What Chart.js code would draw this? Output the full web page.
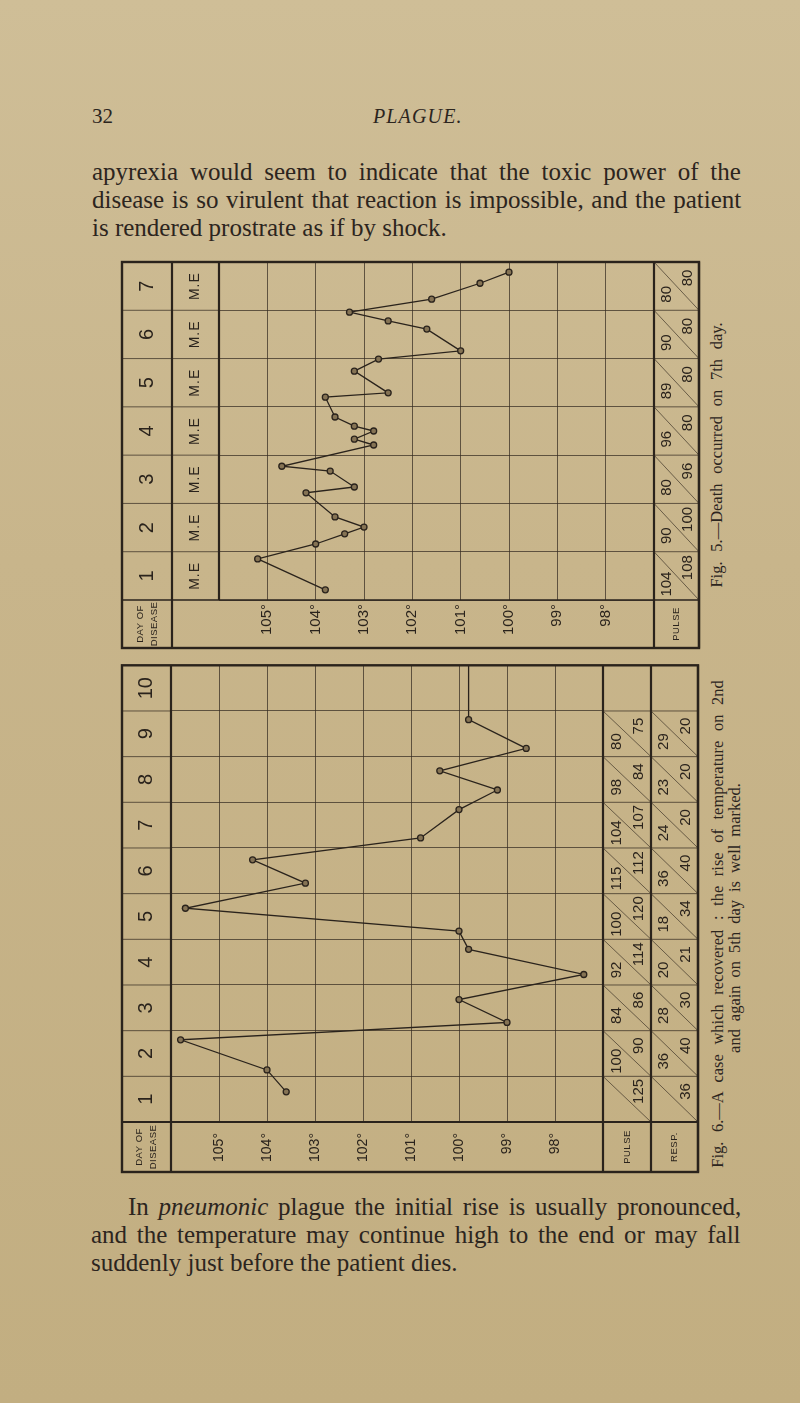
<!DOCTYPE html>
<html>
<head>
<meta charset="utf-8">
<title>Plague temperature charts</title>
<script src="https://cdn.jsdelivr.net/npm/chart.js@4.4.1/dist/chart.umd.min.js"></script>
<style>
  html, body { margin: 0; padding: 0; }
  body {
    width: 800px; height: 1403px; position: relative; overflow: hidden;
    background: linear-gradient(180deg, #cfbe97 0%, #c8b58b 40%, #c2ae81 100%);
    color: #2c251e; font-family: "Liberation Serif", "DejaVu Serif", serif;
  }
  .t { position: absolute; white-space: nowrap; }
  .body { font-size: 25px; line-height: 28px; }
  .cap { font-size: 16.5px; line-height: 18px; transform: translate(-50%, -50%) rotate(-90deg); }
  canvas { position: absolute; }
</style>
</head>
<body>

<div class="t" style="left:92px;top:106px;font-size:21px;line-height:21px">32</div>
<div class="t" data-w="90" style="left:373px;top:106px;font-size:20px;line-height:21px;font-style:italic">PLAGUE.</div>

<div class="t body" data-w="649" style="left:92px;top:158px">apyrexia would seem to indicate that the toxic power of the</div>
<div class="t body" data-w="649" style="left:92px;top:186px">disease is so virulent that reaction is impossible, and the patient</div>
<div class="t body" style="left:92px;top:214px">is rendered prostrate as if by shock.</div>

<canvas id="fig5" width="586" height="398" style="left:118px;top:256px"></canvas>
<div class="t cap" data-w="265" style="left:717px;top:455px">Fig. 5.—Death occurred on 7th day.</div>

<canvas id="fig6" width="586" height="518" style="left:118px;top:660px"></canvas>
<div class="t cap" data-w="488" style="left:718px;top:924px">Fig. 6.—A case which recovered : the rise of temperature on 2nd</div>
<div class="t cap" data-w="270" style="left:735px;top:918px">and again on 5th day is well marked.</div>

<div class="t body" data-w="613" style="left:128px;top:1193px">In <i>pneumonic</i> plague the initial rise is usually pronounced,</div>
<div class="t body" data-w="650" style="left:91px;top:1221px">and the temperature may continue high to the end or may fall</div>
<div class="t body" style="left:91px;top:1249px">suddenly just before the patient dies.</div>

<script>
// temperature scale labels (both charts)
const tempTicks = [105, 104, 103, 102, 101, 100, 99, 98];

// Fig. 5 - death on the 7th day (time in days from admission, temp in °F)
const fig5Days = ['1', '2', '3', '4', '5', '6', '7'];
const fig5Times = [0.21, 0.85, 1.16, 1.37, 1.51, 1.72, 2.22, 2.34, 2.67, 2.77, 3.21, 3.33, 3.50,
                   3.60, 3.79, 4.20, 4.29, 4.74, 4.99, 5.16, 5.61, 5.78, 5.96, 6.23, 6.56, 6.79];
const fig5Temps = [103.8, 105.2, 104.0, 103.4, 103.0, 103.6, 104.2, 103.2, 103.7, 104.7, 102.8, 103.2, 102.8,
                   103.2, 103.6, 103.8, 102.5, 103.2, 102.7, 101.0, 101.7, 102.5, 103.3, 101.6, 100.6, 100.0];
const fig5PulseM = [104, 90, 80, 96, 89, 90, 80];
const fig5PulseE = [108, 100, 96, 80, 80, 80, 80];

// Fig. 6 - a case which recovered (last entry is the line running up to the top edge)
const fig6Days = ['1', '2', '3', '4', '5', '6', '7', '8', '9', '10'];
const fig6Times = [0.66, 1.14, 1.80, 2.18, 2.68, 3.23, 3.78, 4.18, 4.68, 5.23, 5.74, 6.22,
                   6.84, 7.27, 7.69, 8.18, 8.81, 10];
const fig6Temps = [103.6, 104.0, 105.8, 99.0, 100.0, 97.4, 99.8, 100.0, 105.7, 103.2, 104.3, 100.8,
                   100.0, 99.2, 100.4, 98.6, 99.8, 99.8];
const fig6PulseM = [null, 100, 84, 92, 100, 115, 104, 98, 80, null];
const fig6PulseE = [125, 90, 86, 114, 120, 112, 107, 84, 75, null];
const fig6RespM = [null, 36, 28, 20, 18, 36, 24, 23, 29, null];
const fig6RespE = [36, 40, 30, 21, 34, 40, 20, 20, 20, null];

const ink = '#2a231c';
const gridInk = 'rgba(52, 43, 33, 0.72)';
Chart.defaults.font.family = 'Liberation Sans';

// stretch justified lines of text to the measured widths
document.querySelectorAll('[data-w]').forEach(el => {
  const target = +el.dataset.w;
  const gaps = (el.textContent.match(/ /g) || []).length;
  const natural = el.offsetWidth;
  if (gaps) el.style.wordSpacing = ((target - natural) / gaps).toFixed(2) + 'px';
  else el.style.letterSpacing = ((target - natural) / el.textContent.length).toFixed(2) + 'px';
});

function vtext(ctx, str, x, y, font, spacing) {
  ctx.save();
  ctx.translate(x, y);
  ctx.rotate(-Math.PI / 2);
  ctx.font = font;
  ctx.letterSpacing = spacing || '0px';
  ctx.textAlign = 'center';
  ctx.textBaseline = 'middle';
  ctx.fillText(str, 0, 0);
  ctx.restore();
}

// draws the chart sheet around the plot: day column, M.E column, pulse/resp cells
const sheet = {
  id: 'sheet',
  afterDraw(chart, args, o) {
    const { ctx, chartArea: a, scales: { y } } = chart;
    const n = o.days.length;
    const leftW = o.left.reduce((s, c) => s + c.w, 0);
    const rightW = o.right.reduce((s, c) => s + c.w, 0);
    const L = a.left - leftW, R = a.right + rightW, T = a.top, B = a.bottom + o.labelRow;
    const top = k => y.getPixelForValue(k + 1);
    const bot = k => y.getPixelForValue(k);
    const midLabel = (a.bottom + B) / 2;

    ctx.save();
    ctx.strokeStyle = ink;
    ctx.fillStyle = ink;
    const seg = (x1, y1, x2, y2, w, c) => {
      ctx.strokeStyle = c || ink;
      ctx.lineWidth = w;
      ctx.beginPath(); ctx.moveTo(x1, y1); ctx.lineTo(x2, y2); ctx.stroke();
    };

    // row rules in the side columns
    for (let k = 1; k < n; k++) {
      const py = y.getPixelForValue(k);
      seg(L, py, a.left, py, 1, gridInk);
      seg(a.right, py, R, py, 1, gridInk);
    }

    // left columns
    let x0 = L;
    o.left.forEach((c, i) => {
      const cx = x0 + c.w / 2;
      for (let k = 0; k < n; k++) {
        const cy = (top(k) + bot(k)) / 2;
        if (c.kind === 'day') vtext(ctx, o.days[k], cx, cy, '20px "Liberation Sans"');
        else vtext(ctx, 'M.E', cx, cy, '14px "Liberation Sans"', '1px');
      }
      if (c.kind === 'day') {
        vtext(ctx, 'DAY OF', cx - 7, midLabel, '9.5px "Liberation Sans Narrow", "Liberation Sans"', '0.5px');
        vtext(ctx, 'DISEASE', cx + 7, midLabel, '9.5px "Liberation Sans Narrow", "Liberation Sans"', '0.5px');
      }
      x0 += c.w;
      seg(x0, T, x0, i === 0 ? B : a.bottom, 2.2);
    });

    // right columns with morning / evening values split by a diagonal
    x0 = a.right;
    seg(x0, T, x0, B, 2.2);
    o.right.forEach(c => {
      for (let k = 0; k < n; k++) {
        if (c.m[k] == null && c.e[k] == null) continue;
        const y0 = top(k), y1 = bot(k), h = y1 - y0;
        seg(x0, y0, x0 + c.w, y1, 0.9, gridInk);
        const f = '15px "Liberation Sans"';
        if (c.m[k] != null) vtext(ctx, String(c.m[k]), x0 + c.w * 0.28, y0 + h * 0.67, f);
        if (c.e[k] != null) vtext(ctx, String(c.e[k]), x0 + c.w * 0.75, y0 + h * 0.33, f);
      }
      vtext(ctx, c.label, x0 + c.w / 2, midLabel, '9.5px "Liberation Sans"', '0.5px');
      x0 += c.w;
      seg(x0, T, x0, B, 2.2);
    });

    // rule above the label row and the outer frame
    seg(L, a.bottom, R, a.bottom, o.labelRule);
    ctx.lineWidth = 2.4;
    ctx.strokeStyle = ink;
    ctx.strokeRect(L, T, R - L, B - T);
    ctx.restore();
  }
};

function buildChart(id, cfg) {
  const pts = cfg.times.map((t, i) => ({ x: cfg.temps[i], y: t }));
  return new Chart(document.getElementById(id), {
    type: 'scatter',
    data: {
      datasets: [{
        data: pts,
        showLine: true,
        tension: 0,
        borderColor: ink,
        borderWidth: 1.3,
        pointRadius: c => (cfg.openEnd && c.dataIndex === pts.length - 1) ? 0 : 3,
        pointBorderWidth: 1.3,
        pointBorderColor: ink,
        pointBackgroundColor: '#857354',
        clip: false
      }]
    },
    options: {
      responsive: false,
      animation: false,
      events: [],
      layout: { padding: cfg.padding },
      plugins: {
        legend: { display: false },
        tooltip: { enabled: false },
        sheet: cfg.sheet
      },
      scales: {
        x: {
          type: 'linear', reverse: true, min: 97, max: 106,
          ticks: {
            stepSize: 1, autoSkip: false, minRotation: 90, maxRotation: 90,
            padding: cfg.tickPad, color: ink,
            font: { size: cfg.tickSize },
            callback: v => tempTicks.includes(v) ? v + '°' : ''
          },
          grid: { color: gridInk, lineWidth: 1, drawTicks: false },
          border: { display: false },
          afterFit: s => { s.height = cfg.sheet.labelRow; }
        },
        y: {
          type: 'linear', min: 0, max: cfg.sheet.days.length,
          ticks: { display: false, stepSize: 1 },
          grid: { color: gridInk, lineWidth: 1, drawTicks: false },
          border: { display: false },
          afterFit: s => { s.width = 0; }
        }
      }
    },
    plugins: [sheet]
  });
}

buildChart('fig5', {
  times: fig5Times, temps: fig5Temps,
  padding: { left: 101, right: 50, top: 6, bottom: 6 },
  tickPad: 4, tickSize: 15,
  sheet: {
    days: fig5Days, labelRow: 48, labelRule: 1.4,
    left: [{ w: 50, kind: 'day' }, { w: 47, kind: 'me' }],
    right: [{ w: 45, m: fig5PulseM, e: fig5PulseE, label: 'PULSE' }]
  }
});

buildChart('fig6', {
  times: fig6Times, temps: fig6Temps, openEnd: true,
  padding: { left: 53, right: 101, top: 5, bottom: 6 },
  tickPad: 11, tickSize: 14,
  sheet: {
    days: fig6Days, labelRow: 50, labelRule: 2.2,
    left: [{ w: 49, kind: 'day' }],
    right: [
      { w: 48, m: fig6PulseM, e: fig6PulseE, label: 'PULSE' },
      { w: 47, m: fig6RespM, e: fig6RespE, label: 'RESP.' }
    ]
  }
});
</script>
</body>
</html>
